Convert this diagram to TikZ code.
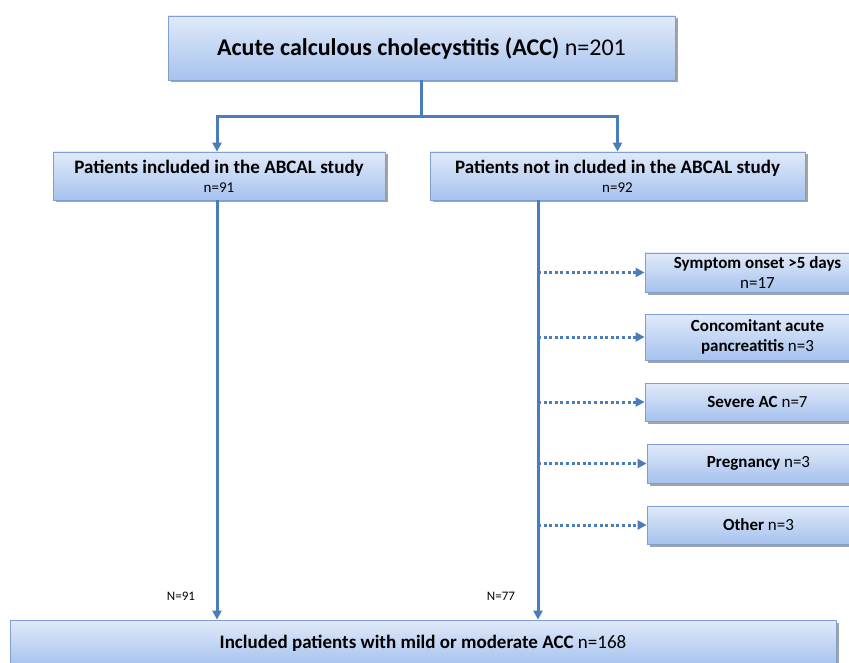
\documentclass[tikz,border=0pt]{standalone}
\usepackage{fontspec}
\setmainfont{Carlito}
\usetikzlibrary{shadows,arrows.meta,calc}
\definecolor{linec}{HTML}{4A7EBB}
\definecolor{boxline}{HTML}{7E9FD0}
\definecolor{boxtop}{HTML}{E0EAF9}
\definecolor{boxbot}{HTML}{A6C2EE}
\tikzset{
  box/.style={draw=boxline, line width=0.8pt, top color=boxtop, bottom color=boxbot,
    drop shadow={shadow xshift=2.5pt, shadow yshift=-2.5pt, fill=black!45, opacity=0.8},
    align=center, inner sep=2pt},
  conn/.style={draw=linec, line width=3pt, -{Triangle[length=9pt,width=9pt]}},
  dconn/.style={draw=linec, line width=3pt, dash pattern=on 3pt off 2.6pt, -{Triangle[length=9pt,width=9pt]}},
  plain/.style={draw=linec, line width=3pt}
}
\begin{document}
\begin{tikzpicture}[x=1pt,y=-1pt]
\begin{scope}
\clip (0,0) rectangle (849,663);
\fill[white] (0,0) rectangle (849,663);
\node[box, minimum width=507pt, minimum height=64pt, font=\fontsize{24}{28}\selectfont] (top) at (421.5,48) {\textbf{Acute calculous cholecystitis (ACC)} n=201};
\node[box, minimum width=332pt, minimum height=48pt, font=\fontsize{19}{19}\selectfont] (left) at (219,176) {\textbf{Patients included in the ABCAL study}\\{\fontsize{15}{17}\selectfont n=91}};
\node[box, minimum width=375pt, minimum height=48pt, font=\fontsize{19}{19}\selectfont] (right) at (617.5,176) {\textbf{Patients not in cluded in the ABCAL study}\\{\fontsize{15}{17}\selectfont n=92}};
\node[box, minimum width=225pt, minimum height=39pt, font=\fontsize{17}{20}\selectfont] (s1) at (757.5,272.5) {\textbf{Symptom onset >5 days}\\n=17};
\node[box, minimum width=225pt, minimum height=46pt, font=\fontsize{17}{20}\selectfont] (s2) at (757.5,337) {\textbf{Concomitant acute}\\\textbf{pancreatitis} n=3};
\node[box, minimum width=225pt, minimum height=38pt, font=\fontsize{17}{20}\selectfont] (s3) at (757.5,402) {\textbf{Severe AC} n=7};
\node[box, minimum width=223pt, minimum height=39pt, font=\fontsize{17}{20}\selectfont] (s4) at (758.5,463.5) {\textbf{Pregnancy} n=3};
\node[box, minimum width=223pt, minimum height=38pt, font=\fontsize{17}{20}\selectfont] (s5) at (758.5,525) {\textbf{Other} n=3};
\node[box, minimum width=826pt, minimum height=46pt, font=\fontsize{19}{22}\selectfont] (bot) at (423,643) {\textbf{Included patients with mild or moderate ACC} n=168};
\coordinate (split) at (421.5,117);
\coordinate (lv) at (217,200);
\coordinate (rv) at (538,200);
\draw[plain] (top.south) -- (split);
\draw[conn] (split) -| (left.north -| lv);
\draw[conn] (split) -| (right.north);
\draw[conn] (lv) -- (lv |- bot.north);
\draw[conn] (rv) -- (rv |- bot.north);
\foreach \s in {s1,s2,s3,s4,s5}{
  \draw[dconn] (rv |- \s.west) -- (\s.west);
}
\node[font=\fontsize{13}{15}\selectfont] (n91) at (181,596) {N=91};
\node[font=\fontsize{13}{15}\selectfont] (n77) at (501,596) {N=77};
\end{scope}
\pgfresetboundingbox
\path[use as bounding box] (0,0) rectangle (849,663);
\end{tikzpicture}
\end{document}
